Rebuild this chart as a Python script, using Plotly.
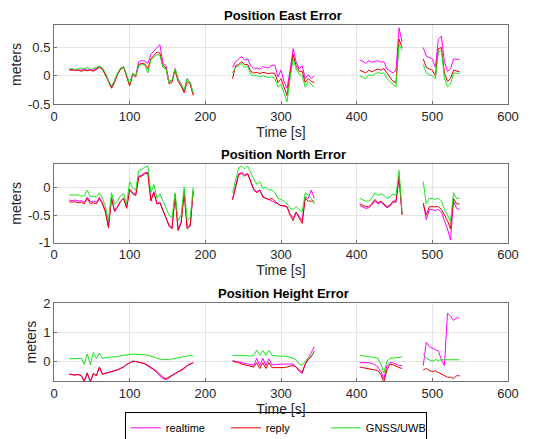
import plotly.graph_objects as go
from plotly.subplots import make_subplots

# time base, four recording segments [s]
t_a = [20, 24, 28, 32, 36, 40, 44, 48, 52, 56, 60, 64, 68, 72, 76, 80, 84, 88, 92, 96, 100,
       104, 108, 112, 116, 120, 124, 128, 132, 136, 140, 144, 148, 152, 156, 160, 164, 168,
       172, 176, 180, 184]
t_b = [236, 240, 244, 248, 252, 256, 260, 264, 268, 272, 276, 280, 284, 288, 292, 296, 300,
       304, 308, 312, 316, 320, 324, 328, 332, 336, 340, 344]
t_c = [404, 408, 412, 416, 420, 424, 428, 432, 436, 440, 444, 448, 452, 456, 460]
t_d = [488, 492, 496, 500, 504, 508, 512, 516, 520, 524, 528, 532, 536]

# East error
east_realtime = ([0.11, 0.11, 0.1, 0.11, 0.1, 0.12, 0.1, 0.11, 0.1, 0.13, 0.16, 0.13, 0.03, -0.09,
                  -0.2, -0.1, 0.04, 0.13, 0.16, 0.01, -0.16, 0.04, 0.0, 0.25, 0.27, 0.26, 0.22,
                  0.38, 0.45, 0.5, 0.55, 0.22, 0.18, -0.1, -0.08, 0.13, -0.05, -0.15, -0.28,
                  -0.05, -0.12, -0.32]
                 + [0.15, 0.25, 0.3, 0.34, 0.28, 0.3, 0.18, 0.13, 0.14, 0.12, 0.16, 0.15, 0.14,
                    0.19, 0.18, -0.02, 0.1, -0.1, -0.22, 0.1, 0.48, 0.25, 0.12, 0.18, -0.05,
                    0.02, -0.05, 0.0]
                 + [0.28, 0.26, 0.22, 0.27, 0.24, 0.25, 0.27, 0.24, 0.25, 0.12, 0.08, 0.05, 0.1,
                    0.85, 0.6]
                 + [0.5, 0.35, 0.32, 0.3, 0.15, 0.65, 0.7, 0.25, 0.08, 0.12, 0.3, 0.29, 0.29])
east_reply = ([0.1, 0.1, 0.09, 0.1, 0.08, 0.1, 0.09, 0.1, 0.08, 0.12, 0.15, 0.12, 0.02, -0.1,
               -0.22, -0.12, 0.02, 0.12, 0.15, 0.0, -0.18, 0.02, -0.02, 0.2, 0.22, 0.21, 0.12,
               0.3, 0.36, 0.42, 0.4, 0.18, 0.14, -0.14, -0.12, 0.1, -0.1, -0.18, -0.3, -0.1,
               -0.15, -0.35]
              + [-0.05, 0.18, 0.2, 0.25, 0.2, 0.2, 0.08, 0.05, 0.06, 0.04, 0.06, 0.05, 0.04,
                 0.05, 0.04, -0.12, -0.05, -0.2, -0.35, 0.02, 0.38, 0.18, 0.08, 0.08, -0.12,
                 -0.05, -0.1, -0.12]
              + [0.1, 0.08, 0.05, 0.1, 0.07, 0.1, 0.12, 0.1, 0.13, 0.05, -0.02, -0.1, -0.12,
                 0.65, 0.5]
              + [0.3, 0.15, 0.12, 0.1, 0.0, 0.48, 0.5, 0.05, -0.1, -0.05, 0.1, 0.08, 0.07])
east_gnss = ([0.12, 0.13, 0.11, 0.12, 0.14, 0.12, 0.15, 0.11, 0.13, 0.15, 0.17, 0.14, 0.05,
              -0.08, -0.18, -0.08, 0.05, 0.14, 0.16, 0.02, -0.14, 0.04, 0.0, 0.18, 0.2, 0.19,
              0.05, 0.28, 0.33, 0.38, 0.36, 0.15, 0.12, -0.12, -0.08, 0.12, -0.05, -0.14, -0.25,
              -0.05, -0.12, -0.3]
             + [0.05, 0.15, 0.18, 0.22, 0.15, 0.17, 0.03, 0.0, 0.01, -0.02, 0.0, -0.01, -0.03,
                -0.02, -0.05, -0.2, -0.15, -0.3, -0.46, -0.05, 0.3, 0.12, 0.03, 0.0, -0.2, -0.1,
                -0.15, -0.2]
             + [0.0, -0.02, -0.05, 0.02, 0.0, 0.03, 0.06, 0.04, 0.05, -0.05, -0.1, -0.15, -0.2,
                0.55, 0.45]
             + [0.2, 0.05, 0.02, 0.0, -0.05, 0.42, 0.45, -0.05, -0.2, -0.15, 0.05, 0.05, 0.04])

# North error
north_realtime = ([-0.23, -0.24, -0.23, -0.25, -0.24, -0.27, -0.18, -0.26, -0.25, -0.27, -0.18,
                   -0.28, -0.43, -0.7, -0.18, -0.44, -0.36, -0.25, -0.2, -0.36, -0.03, -0.1,
                   -0.13, 0.2, 0.22, 0.26, 0.27, -0.22, -0.08, -0.3, -0.27, -0.42, -0.58, -0.7,
                   -0.72, -0.13, -0.75, -0.63, -0.08, -0.72, -0.68, -0.05]
                  + [-0.2, 0.02, 0.24, 0.27, 0.22, 0.25, 0.12, -0.03, -0.08, -0.05, -0.16, -0.2,
                     -0.22, -0.25, -0.27, -0.3, -0.33, -0.34, -0.36, -0.48, -0.55, -0.45, -0.52,
                     -0.6, -0.18, -0.2, -0.05, -0.2]
                  + [-0.33, -0.35, -0.38, -0.37, -0.32, -0.25, -0.3, -0.27, -0.32, -0.37, -0.34,
                     -0.27, -0.27, 0.18, -0.48]
                  + [-0.28, -0.58, -0.4, -0.4, -0.42, -0.4, -0.45, -0.6, -0.75, -0.95, -0.25,
                     -0.38, -0.4])
north_reply = ([-0.26, -0.27, -0.26, -0.28, -0.27, -0.3, -0.2, -0.29, -0.28, -0.3, -0.2, -0.3,
                -0.45, -0.73, -0.2, -0.42, -0.35, -0.25, -0.2, -0.38, -0.05, -0.12, -0.15, 0.18,
                0.2, 0.24, 0.25, -0.25, -0.1, -0.3, -0.28, -0.4, -0.55, -0.68, -0.75, -0.15,
                -0.78, -0.65, -0.1, -0.75, -0.7, -0.08]
               + [-0.23, 0.0, 0.22, 0.25, 0.2, 0.24, 0.1, -0.05, -0.1, -0.05, -0.18, -0.2, -0.22,
                  -0.2, -0.25, -0.3, -0.33, -0.33, -0.35, -0.5, -0.6, -0.45, -0.55, -0.65, -0.2,
                  -0.25, -0.25, -0.25]
               + [-0.3, -0.33, -0.35, -0.35, -0.3, -0.22, -0.28, -0.25, -0.3, -0.35, -0.32,
                  -0.25, -0.25, 0.2, -0.5]
               + [-0.3, -0.5, -0.35, -0.35, -0.36, -0.35, -0.4, -0.5, -0.6, -0.75, -0.2, -0.3,
                  -0.3])
north_gnss = ([-0.14, -0.14, -0.15, -0.14, -0.16, -0.15, -0.05, -0.17, -0.16, -0.18, -0.1, -0.2,
               -0.35, -0.6, -0.1, -0.3, -0.25, -0.15, -0.12, -0.3, 0.1, -0.02, -0.05, 0.3, 0.32,
               0.36, 0.38, -0.1, 0.05, -0.2, -0.12, -0.25, -0.4, -0.5, -0.55, -0.1, -0.6, -0.5,
               0.0, -0.6, -0.55, 0.0]
              + [-0.1, 0.1, 0.35, 0.38, 0.33, 0.38, 0.25, 0.15, 0.05, 0.1, -0.02, 0.0, -0.05,
                 -0.05, -0.1, -0.2, -0.22, -0.25, -0.3, -0.38, -0.4, -0.35, -0.4, -0.45, -0.1,
                 -0.15, -0.2, -0.3]
              + [-0.2, -0.22, -0.25, -0.25, -0.2, -0.1, -0.15, -0.12, -0.15, -0.2, -0.18, -0.12,
                 -0.15, 0.3, -0.45]
              + [0.1, -0.3, -0.2, -0.2, -0.22, -0.2, -0.25, -0.4, -0.5, -0.62, -0.1, -0.2, -0.2])

# Height error
height_realtime = ([-0.44, -0.46, -0.47, -0.45, -0.49, -0.66, -0.42, -0.68, -0.43, -0.49, -0.22,
                    -0.44, -0.41, -0.39, -0.36, -0.33, -0.29, -0.24, -0.19, -0.11, -0.04, 0.0,
                    -0.01, -0.03, -0.06, -0.1, -0.16, -0.22, -0.3, -0.4, -0.5, -0.6, -0.63,
                    -0.58, -0.5, -0.43, -0.38, -0.31, -0.24, -0.14, -0.09, -0.05]
                   + [0.02, 0.0, -0.02, -0.06, -0.08, -0.1, -0.12, -0.14, 0.1, -0.15, 0.1, -0.15,
                      0.08, -0.13, -0.12, -0.1, -0.1, -0.1, -0.1, -0.08, -0.1, -0.2, -0.35,
                      -0.42, -0.1, 0.1, 0.3, 0.5]
                   + [-0.05, -0.05, -0.06, -0.05, -0.08, -0.12, -0.2, -0.35, -0.6, -0.15, -0.05,
                      -0.05, -0.1, -0.15, -0.15]
                   + [-0.15, 0.65, 0.5, 0.45, 0.4, 0.35, 0.05, -0.15, 1.65, 1.55, 1.4, 1.5, 1.48])
height_reply = ([-0.45, -0.47, -0.48, -0.46, -0.5, -0.7, -0.4, -0.72, -0.42, -0.5, -0.2, -0.45,
                 -0.42, -0.4, -0.37, -0.34, -0.3, -0.25, -0.2, -0.12, -0.05, 0.0, -0.01, -0.03,
                 -0.06, -0.08, -0.14, -0.2, -0.28, -0.35, -0.45, -0.55, -0.6, -0.55, -0.48,
                 -0.42, -0.38, -0.32, -0.25, -0.15, -0.1, -0.05]
                + [0.0, -0.02, -0.05, -0.1, -0.12, -0.15, -0.18, -0.2, -0.05, -0.25, -0.05,
                   -0.25, -0.05, -0.22, -0.22, -0.21, -0.22, -0.22, -0.2, -0.18, -0.15, -0.2,
                   -0.3, -0.38, -0.1, 0.05, 0.15, 0.35]
                + [-0.2, -0.22, -0.25, -0.25, -0.27, -0.3, -0.32, -0.45, -0.72, -0.3, -0.1,
                   -0.12, -0.18, -0.22, -0.25]
                + [-0.3, -0.25, -0.32, -0.35, -0.33, -0.38, -0.45, -0.5, -0.55, -0.55, -0.6,
                   -0.5, -0.5])
height_gnss = ([0.08, 0.09, 0.08, 0.09, 0.1, -0.1, 0.25, -0.12, 0.3, 0.1, 0.28, 0.1, 0.12, 0.13,
                0.15, 0.15, 0.17, 0.19, 0.2, 0.22, 0.23, 0.25, 0.24, 0.24, 0.22, 0.22, 0.2,
                0.18, 0.15, 0.1, 0.08, 0.05, 0.06, 0.05, 0.08, 0.1, 0.1, 0.13, 0.15, 0.18, 0.2,
                0.18]
               + [0.2, 0.21, 0.2, 0.2, 0.19, 0.2, 0.18, 0.2, 0.38, 0.2, 0.36, 0.2, 0.37, 0.2,
                  0.18, 0.18, 0.17, 0.18, 0.16, 0.14, 0.1, 0.05, -0.1, -0.15, 0.0, 0.1, 0.2, 0.3]
               + [0.2, 0.2, 0.18, 0.15, 0.15, 0.12, 0.1, -0.1, -0.4, 0.0, 0.1, 0.1, 0.12, 0.15,
                  0.15]
               + [0.25, 0.1, 0.05, 0.0, 0.05, 0.03, 0.05, 0.05, 0.04, 0.05, 0.05, 0.04, 0.05])

panel_titles = ["Position East Error", "Position North Error", "Position Height Error"]
series_names = ["realtime", "reply", "GNSS/UWB"]
colors = ["#ff00ff", "#e50000", "#19e619"]


def with_gaps(values):
    # split a flat series back into the segments and put a break between them
    out = []
    i = 0
    for seg in (t_a, t_b, t_c, t_d):
        out += values[i:i + len(seg)] + [None]
        i += len(seg)
    assert i == len(values)
    return out[:-1]


t_all = with_gaps(t_a + t_b + t_c + t_d)

panels = [
    [east_realtime, east_reply, east_gnss],
    [north_realtime, north_reply, north_gnss],
    [height_realtime, height_reply, height_gnss],
]

fig = make_subplots(rows=3, cols=1)

for r, panel in enumerate(panels, start=1):
    for k, vals in enumerate(panel):
        fig.add_trace(go.Scatter(x=t_all, y=with_gaps(vals), mode="lines",
                                 name=series_names[k], showlegend=(r == 1),
                                 line=dict(color=colors[k], width=1)),
                      row=r, col=1)

domains = [[0.778, 1.0], [0.388, 0.61], [0.0, 0.219]]
yranges = [[-0.5, 0.9], [-1, 0.42], [-0.68, 2]]
yticks = [[-0.5, 0, 0.5], [-1, -0.5, 0], [0, 1, 2]]
ytext = [["-0.5", "0", "0.5"], ["-1", "-0.5", "0"], ["0", "1", "2"]]

axis_style = dict(showline=True, mirror=True, linecolor="#707070", linewidth=1,
                  showgrid=True, gridcolor="#e3e3e3", gridwidth=1, zeroline=False,
                  ticks="inside", ticklen=3, tickcolor="#707070",
                  tickfont=dict(size=13, color="#262626"))

for r in range(1, 4):
    fig.update_xaxes(range=[0, 600], tickvals=[0, 100, 200, 300, 400, 500, 600],
                     title=dict(text="Time [s]", font=dict(size=14, color="#262626"), standoff=2),
                     row=r, col=1, **axis_style)
    fig.update_yaxes(range=yranges[r - 1], domain=domains[r - 1],
                     tickvals=yticks[r - 1], ticktext=ytext[r - 1],
                     title=dict(text="meters", font=dict(size=14, color="#262626"), standoff=3),
                     row=r, col=1, **axis_style)
    fig.add_annotation(text="<b>" + panel_titles[r - 1] + "</b>", xref="paper", yref="paper",
                       x=0.505, y=domains[r - 1][1], yanchor="bottom", showarrow=False,
                       yshift=0, font=dict(size=13, color="#000000"))

# page body adds an 8px margin, so the figure is 8px smaller than the window
fig.update_layout(
    width=544, height=431,
    margin=dict(l=46, r=44, t=17, b=58, autoexpand=False),
    paper_bgcolor="white", plot_bgcolor="white",
    font=dict(family="Liberation Sans, Arial, sans-serif"),
    legend=dict(orientation="h", x=0.156, xanchor="left", y=-0.088, yanchor="top",
                bordercolor="#000000", borderwidth=1, bgcolor="white",
                font=dict(size=11, color="#000000"),
                entrywidth=55, entrywidthmode="pixels"),
)

fig.write_html("out.html")
